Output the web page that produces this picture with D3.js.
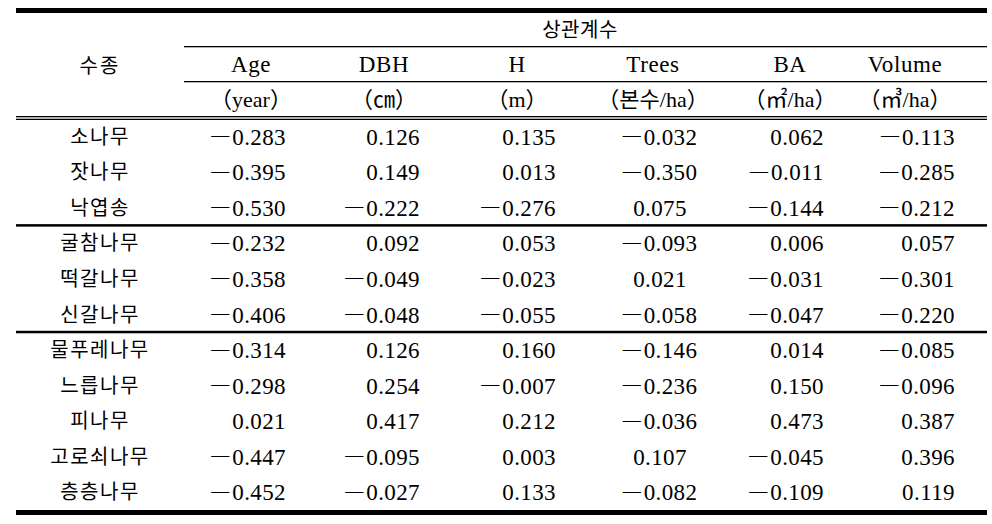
<!DOCTYPE html>
<html><head><meta charset="utf-8">
<script src="https://cdn.jsdelivr.net/npm/d3@7"></script>
<style>
html,body{margin:0;padding:0;background:#fff;}
svg text{fill:#000;}
</style></head>
<body>
<svg id="chart" width="992" height="524"></svg>
<script>
// ---- data ----
const species = ["소나무","잣나무","낙엽송","굴참나무","떡갈나무","신갈나무","물푸레나무","느릅나무","피나무","고로쇠나무","층층나무"];
const groups = [3, 3, 5]; // rows per group
const variables = ["Age","DBH","H","Trees","BA","Volume"];
const units = ["（year）","（㎝）","（m）","（본수/ha）","（㎡/ha）","（㎥/ha）"];
const age    = [-0.283,-0.395,-0.530,-0.232,-0.358,-0.406,-0.314,-0.298, 0.021,-0.447,-0.452];
const dbh    = [ 0.126, 0.149,-0.222, 0.092,-0.049,-0.048, 0.126, 0.254, 0.417,-0.095,-0.027];
const height = [ 0.135, 0.013,-0.276, 0.053,-0.023,-0.055, 0.160,-0.007, 0.212, 0.003, 0.133];
const trees  = [-0.032,-0.350, 0.075,-0.093, 0.021,-0.058,-0.146,-0.236,-0.036, 0.107,-0.082];
const ba     = [ 0.062,-0.011,-0.144, 0.006,-0.031,-0.047, 0.014, 0.150, 0.473,-0.045,-0.109];
const volume = [-0.113,-0.285,-0.212, 0.057,-0.301,-0.220,-0.085,-0.096, 0.387, 0.396, 0.119];
const headerTitle = "상관계수";
const speciesHeader = "수종";

const series = [age, dbh, height, trees, ba, volume];

// ---- layout ----
const svg = d3.select("#chart");
const L = 16, R = 987;
const serif = "'Liberation Serif','Times New Roman',serif";
const kr = "'Noto Sans CJK KR','Noto Sans CJK SC',sans-serif";
const fs = 23;

// header centres, number anchors and alignment per column
const xHead = d3.scaleOrdinal().domain(variables).range([251, 384, 517, 653, 790, 905]);
const xNum  = d3.scaleOrdinal().domain(variables).range([286, 420, 556, 660, 824, 955]);
const anchorNum = d3.scaleOrdinal().domain(variables).range(["end","end","end","middle","end","end"]);
const y = d3.scaleBand().domain(d3.range(species.length)).range([119, 510]);
const fmt = d3.format(".3f");

function hline(y0, x0, x1, w){
  svg.append("rect").attr("x", x0).attr("y", y0).attr("width", x1 - x0).attr("height", w).attr("fill", "#000");
}
// rules
hline(8, L, R, 5);
hline(46, 184, R, 1.3);
hline(81, 184, R, 1.3);
hline(116, L, R, 1.3);
hline(118.7, L, R, 1.3);
let acc = 0;
groups.slice(0, -1).forEach(n => { acc += n; hline(y(acc) - 1.5, L, R, 2.5); });
hline(510, L, R, 5);

// header
svg.append("text").attr("x", 580).attr("y", 29.5).attr("dy", "0.35em")
  .attr("text-anchor", "middle").attr("font-family", kr).attr("font-size", 20)
  .attr("letter-spacing", 0.5).text(headerTitle);
svg.append("text").attr("x", 100).attr("y", 66).attr("dy", "0.35em")
  .attr("text-anchor", "middle").attr("font-family", kr).attr("font-size", 20)
  .attr("letter-spacing", 2).text(speciesHeader);
svg.selectAll("text.var").data(variables).join("text").attr("class", "var")
  .attr("x", d => xHead(d)).attr("y", 64).attr("dy", "0.35em")
  .attr("text-anchor", "middle").attr("font-family", serif).attr("font-size", fs)
  .attr("letter-spacing", 0.6).text(d => d);
svg.selectAll("text.unit").data(units).join("text").attr("class", "unit")
  .attr("x", (d, i) => xHead(variables[i])).attr("y", 99).attr("dy", "0.35em")
  .attr("text-anchor", "middle").attr("font-family", serif + "," + kr).attr("font-size", 22)
  .text(d => d);

// body
svg.selectAll("text.sp").data(species).join("text").attr("class", "sp")
  .attr("x", 100).attr("y", (d, i) => y(i) + y.bandwidth() / 2).attr("dy", "0.35em")
  .attr("text-anchor", "middle").attr("font-family", kr).attr("font-size", 20)
  .attr("letter-spacing", 1.5).text(d => d);

series.forEach((vals, j) => {
  const t = svg.selectAll("text.v" + j).data(vals).join("text").attr("class", "v" + j)
    .attr("x", xNum(variables[j])).attr("y", (d, i) => y(i) + y.bandwidth() / 2 + 8)
    .attr("text-anchor", anchorNum(variables[j])).attr("font-family", serif).attr("font-size", fs)
    .attr("letter-spacing", 0.4);
  t.each(function(d){
    const s = d3.select(this);
    if (d < 0) {
      s.append("tspan").attr("font-size", 18).attr("letter-spacing", 0).attr("dy", -3.5).text("\u2014");
      s.append("tspan").attr("dx", 3).attr("dy", 3.5).text(fmt(Math.abs(d)));
    } else {
      s.append("tspan").text(fmt(d));
    }
  });
});
</script>
</body></html>
